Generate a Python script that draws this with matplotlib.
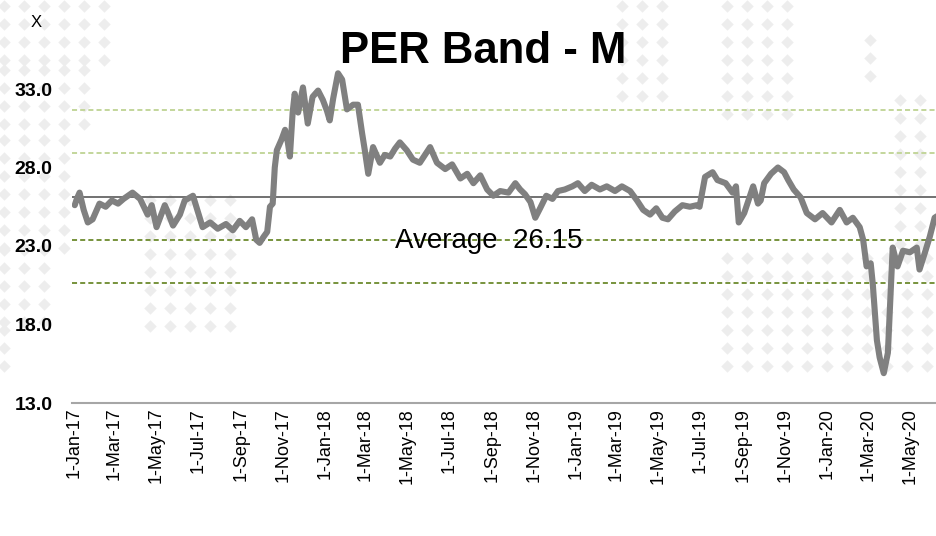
import matplotlib.pyplot as plt
import matplotlib.dates as mdates
from matplotlib.ticker import FuncFormatter
import numpy as np
import pandas as pd

# PER readings taken off the chart
dates = [
    "2017-01-02", "2017-01-05", "2017-01-09", "2017-01-15", "2017-01-21", "2017-01-28",
    "2017-02-07", "2017-02-16", "2017-02-25", "2017-03-06", "2017-03-14", "2017-03-27",
    "2017-04-07", "2017-04-18", "2017-04-24", "2017-05-01", "2017-05-13", "2017-05-17",
    "2017-05-25", "2017-06-04", "2017-06-11", "2017-06-23", "2017-06-30", "2017-07-07",
    "2017-07-18", "2017-07-29", "2017-08-10", "2017-08-20", "2017-08-30", "2017-09-08",
    "2017-09-17", "2017-09-23", "2017-09-28", "2017-10-04", "2017-10-09", "2017-10-13",
    "2017-10-17", "2017-10-20", "2017-10-23", "2017-10-30", "2017-11-04", "2017-11-08",
    "2017-11-11", "2017-11-15", "2017-11-18", "2017-11-23", "2017-11-30", "2017-12-07",
    "2017-12-14", "2017-12-22", "2017-12-29", "2018-01-04", "2018-01-08", "2018-01-13",
    "2018-01-20", "2018-01-26", "2018-02-02", "2018-02-11", "2018-02-18", "2018-02-24",
    "2018-02-28", "2018-03-05", "2018-03-12", "2018-03-22", "2018-03-29", "2018-04-06",
    "2018-04-13", "2018-04-20", "2018-04-30", "2018-05-09", "2018-05-19", "2018-06-03",
    "2018-06-13", "2018-06-25", "2018-07-05", "2018-07-17", "2018-07-27", "2018-08-05",
    "2018-08-15", "2018-08-25", "2018-09-03", "2018-09-13", "2018-09-25", "2018-10-05",
    "2018-10-12", "2018-10-19", "2018-10-27", "2018-11-03", "2018-11-10", "2018-11-19",
    "2018-11-28", "2018-12-06", "2018-12-16", "2018-12-27", "2019-01-04", "2019-01-14",
    "2019-01-24", "2019-02-05", "2019-02-15", "2019-02-27", "2019-03-09", "2019-03-21",
    "2019-03-31", "2019-04-09", "2019-04-19", "2019-04-28", "2019-05-07", "2019-05-15",
    "2019-05-25", "2019-06-05", "2019-06-16", "2019-06-26", "2019-06-30", "2019-07-08",
    "2019-07-19", "2019-07-26", "2019-08-07", "2019-08-17", "2019-08-22", "2019-08-26",
    "2019-09-03", "2019-09-16", "2019-09-23", "2019-09-27", "2019-10-02", "2019-10-12",
    "2019-10-22", "2019-10-31", "2019-11-06", "2019-11-14", "2019-11-24", "2019-12-03",
    "2019-12-15", "2019-12-26", "2020-01-08", "2020-01-20", "2020-01-30", "2020-02-08",
    "2020-02-18", "2020-02-23", "2020-02-28", "2020-03-05", "2020-03-08", "2020-03-14",
    "2020-03-18", "2020-03-24", "2020-03-30", "2020-04-03", "2020-04-06", "2020-04-13",
    "2020-04-21", "2020-05-01", "2020-05-11", "2020-05-15", "2020-05-23", "2020-05-30",
    "2020-06-06", "2020-06-13",
]
per = [
    25.6, 26.0, 26.4, 25.3, 24.5, 24.7,
    25.7, 25.5, 25.9, 25.7, 26.0, 26.4,
    26.0, 25.0, 25.6, 24.2, 25.6, 25.2,
    24.3, 25.0, 25.9, 26.2, 25.2, 24.2,
    24.5, 24.1, 24.4, 24.0, 24.6, 24.2,
    24.7, 23.4, 23.2, 23.6, 23.9, 25.5,
    25.7, 28.0, 29.1, 29.8, 30.4, 29.6,
    28.7, 31.5, 32.7, 31.5, 33.1, 30.8,
    32.5, 32.9, 32.3, 31.6, 31.0, 32.4,
    34.0, 33.6, 31.7, 32.0, 32.0, 30.2,
    29.1, 27.6, 29.3, 28.3, 28.8, 28.7,
    29.2, 29.6, 29.1, 28.5, 28.3, 29.3,
    28.3, 27.9, 28.2, 27.3, 27.6, 27.0,
    27.5, 26.6, 26.2, 26.5, 26.4, 27.0,
    26.6, 26.3, 25.8, 24.8, 25.4, 26.2,
    26.0, 26.5, 26.6, 26.8, 27.0, 26.5,
    26.9, 26.6, 26.8, 26.5, 26.8, 26.5,
    25.9, 25.3, 25.0, 25.4, 24.8, 24.7,
    25.2, 25.6, 25.5, 25.6, 25.5, 27.4,
    27.7, 27.2, 27.0, 26.4, 26.8, 24.5,
    25.1, 26.8, 25.7, 25.9, 27.0, 27.6,
    28.0, 27.7, 27.2, 26.6, 26.1, 25.1,
    24.7, 25.1, 24.5, 25.3, 24.5, 24.8,
    24.2, 23.4, 21.7, 21.9, 20.6, 17.0,
    15.9, 14.9, 16.2, 20.0, 22.9, 21.7,
    22.7, 22.6, 22.9, 21.5, 22.6, 23.6,
    24.8, 25.0,
]

average = 26.15
sd = 2.75
y_ticks = [13.0, 18.0, 23.0, 28.0, 33.0]

W, H = 936, 536
fig = plt.figure(figsize=(W / 100, H / 100), dpi=100)

# faint diamond watermark behind the chart
bg = fig.add_axes([0, 0, 1, 1], zorder=0)
bg.set_xlim(0, W)
bg.set_ylim(H, 0)
bg.axis("off")
boxes = [(4, 124, 6, 70), (4, 104, 70, 140), (4, 84, 140, 250), (4, 60, 250, 330),
         (4, 24, 330, 370), (150, 240, 200, 340), (622, 682, 6, 110), (727, 807, 6, 120),
         (727, 936, 258, 380), (900, 936, 100, 258), (870, 890, 40, 90)]
for x0, x1, y0, y1 in boxes:
    gx, gy = np.meshgrid(np.arange(x0, x1, 20), np.arange(y0, y1, 18))
    bg.scatter(gx.ravel(), gy.ravel(), marker="D", s=40, color="#ededed", linewidths=0)

ax = fig.add_axes([72 / W, (H - 403) / H, (W - 72) / W, 403 / H], zorder=1)
ax.patch.set_alpha(0)

x = pd.to_datetime(dates)
dash = (0, (2.6, 1.6))
ax.axhline(average + 2 * sd, color="#c3d69b", lw=1.4, ls=dash)
ax.axhline(average + sd, color="#c3d69b", lw=1.4, ls=dash)
ax.axhline(average - sd, color="#77933c", lw=1.4, ls=dash)
ax.axhline(average - 2 * sd, color="#77933c", lw=1.4, ls=dash)
ax.axhline(average, color="#595959", lw=1.2)
ax.plot(x, per, color="#808080", lw=4.4, solid_joinstyle="round", solid_capstyle="round")

ax.set_ylim(13, 13 + 403 / 15.7)
ax.set_xlim(pd.Timestamp("2016-12-29"), pd.Timestamp("2020-06-08"))
ax.set_yticks(y_ticks)
ax.set_yticklabels([f"{v:.1f}" for v in y_ticks], fontsize=14, fontweight="bold",
                   family=["Liberation Sans", "DejaVu Sans"])
ax.xaxis.set_major_locator(mdates.MonthLocator(bymonth=[1, 3, 5, 7, 9, 11]))
ax.xaxis.set_major_formatter(FuncFormatter(
    lambda v, pos: "{}-{}".format(mdates.num2date(v).day, mdates.num2date(v).strftime("%b-%y"))))
for lab in ax.get_xticklabels():
    lab.set_family(["Liberation Sans", "DejaVu Sans"])
ax.tick_params(axis="x", labelrotation=90, labelsize=13, length=0, pad=3.5)
ax.tick_params(axis="y", length=0, pad=14)
for s in ["top", "right", "left"]:
    ax.spines[s].set_visible(False)
ax.spines["bottom"].set_color("#a6a6a6")
ax.spines["bottom"].set_linewidth(1.5)

fig.text(483 / W, 1 - 63 / H, "PER Band - M", ha="center", va="baseline", fontsize=31.5,
         fontweight="bold", family=["Liberation Sans", "DejaVu Sans"])
fig.text(395 / W, 1 - 248 / H, "Average  26.15", ha="left", va="baseline", fontsize=20,
         family=["Liberation Sans", "DejaVu Sans"])
fig.text(36 / W, 1 - 27 / H, "X", ha="center", va="baseline", fontsize=12,
         family=["Liberation Sans", "DejaVu Sans"])

fig.savefig("out.png", dpi=100)
